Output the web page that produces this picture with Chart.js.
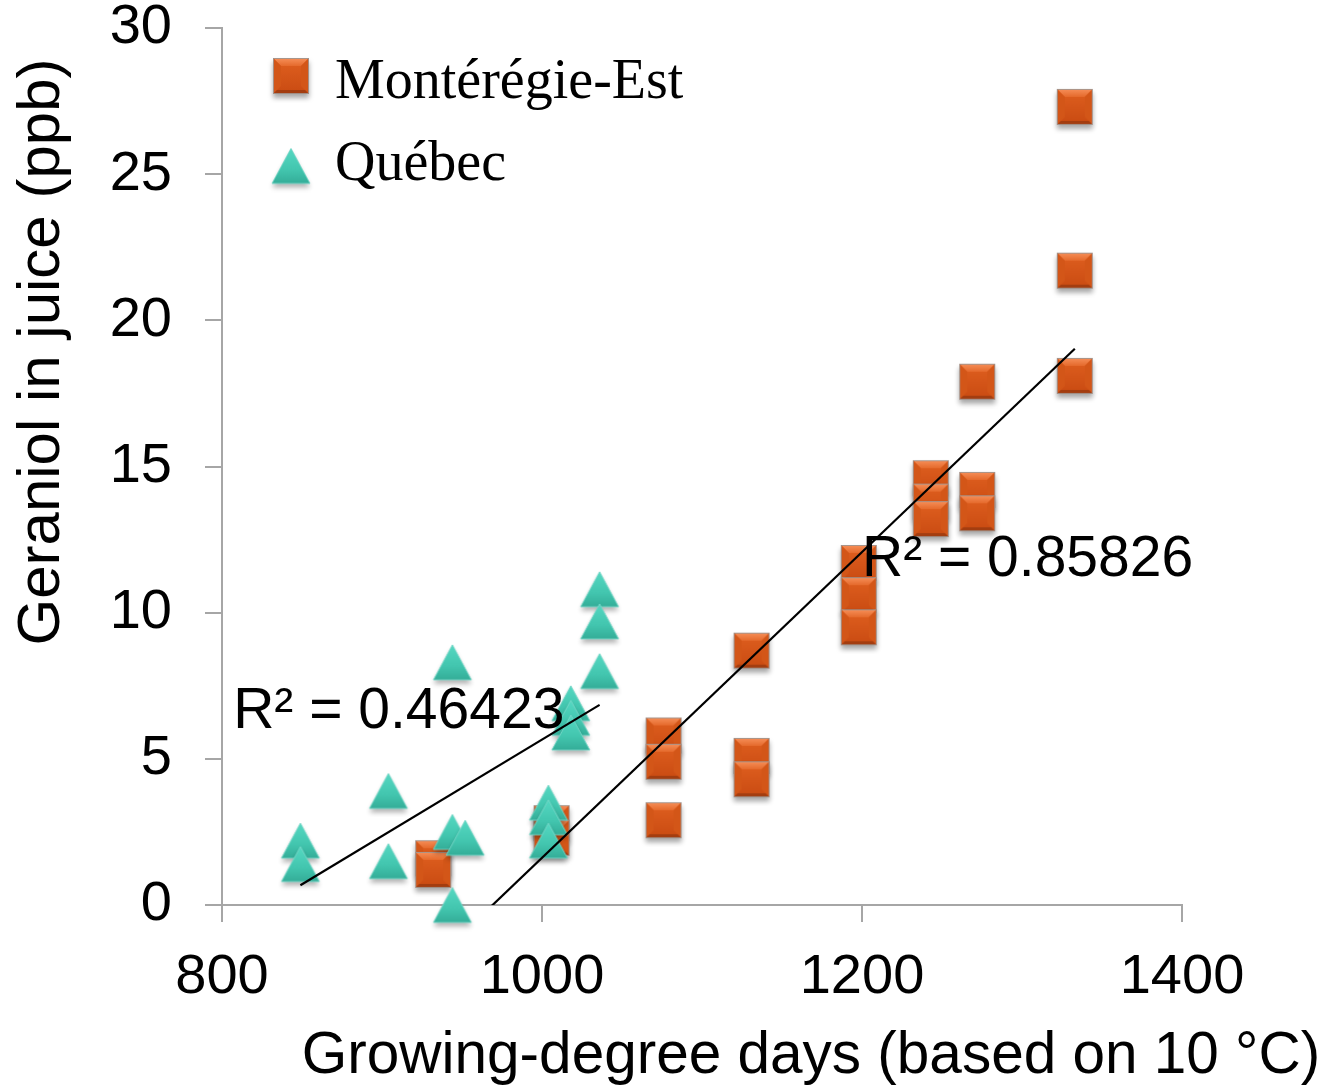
<!DOCTYPE html>
<html>
<head>
<meta charset="utf-8">
<script src="https://cdn.jsdelivr.net/npm/chart.js@4"></script>
<style>
  html, body { margin: 0; padding: 0; background: #fff; }
  #wrap { width: 1329px; height: 1088px; }
</style>
</head>
<body>
<div id="wrap"><canvas id="gdd-chart" width="1329" height="1088"></canvas></div>
<script>
// Geraniol vs growing-degree days, two regions
const seriesNames = ["Montérégie-Est", "Québec"];

const monteregieGdd = [932, 932, 1006, 1006, 1076, 1076, 1076, 1131, 1131, 1131, 1198, 1198, 1198, 1243, 1243, 1243, 1272, 1272, 1272, 1333, 1333, 1333];
const monteregieGeraniol = [1.6, 1.2, 2.8, 2.3, 5.8, 4.9, 2.9, 8.7, 5.1, 4.3, 11.7, 10.6, 9.5, 14.6, 13.8, 13.2, 17.9, 14.2, 13.4, 27.3, 21.7, 18.1];

const quebecGdd = [849, 849, 904, 904, 944, 944, 944, 952, 1004, 1004, 1004, 1018, 1018, 1018, 1036, 1036, 1036];
const quebecGeraniol = [2.2, 1.4, 3.9, 1.5, 8.3, 2.5, 0, 2.3, 3.5, 3.0, 2.2, 6.9, 6.4, 5.9, 10.8, 9.7, 8.0];

const xTicks = [800, 1000, 1200, 1400];
const yTicks = [0, 5, 10, 15, 20, 25, 30];

const r2Labels = ["R² = 0.46423", "R² = 0.85826"];
// left/middle anchor of each R² label, in data units
const r2Anchors = [[807, 6.6], [1200, 11.8]];

const xTitle = "Growing-degree days (based on 10 °C)";
const yTitle = "Geraniol in juice (ppb)";

const SANS = '"Liberation Sans", Arial, sans-serif';
const SERIF = '"Liberation Serif", "Times New Roman", serif';

// least-squares line across the x range of a series
function trendPoints(xs, ys) {
  const n = xs.length;
  const mx = xs.reduce((a, b) => a + b, 0) / n;
  const my = ys.reduce((a, b) => a + b, 0) / n;
  let sxy = 0, sxx = 0;
  for (let i = 0; i < n; i++) {
    sxy += (xs[i] - mx) * (ys[i] - my);
    sxx += (xs[i] - mx) ** 2;
  }
  const slope = sxy / sxx;
  const icpt = my - slope * mx;
  const lo = Math.min(...xs), hi = Math.max(...xs);
  return [{ x: lo, y: icpt + slope * lo }, { x: hi, y: icpt + slope * hi }];
}

const toPoints = (xs, ys) => xs.map((x, i) => ({ x, y: ys[i] }));

// bevelled orange square marker
function makeSquareMarker() {
  const s = 36, pad = 9;
  const c = document.createElement("canvas");
  c.width = c.height = s + pad * 2;
  const g = c.getContext("2d");
  const x0 = pad, y0 = pad, b = 8;

  g.save();
  g.shadowColor = "rgba(0,0,0,0.35)";
  g.shadowBlur = 5;
  g.shadowOffsetY = 4;
  g.fillStyle = "#c54a16";
  g.fillRect(x0, y0, s, s);
  g.restore();

  const face = g.createLinearGradient(0, y0, 0, y0 + s);
  face.addColorStop(0, "#e06020");
  face.addColorStop(1, "#c94b12");
  g.fillStyle = face;
  g.fillRect(x0, y0, s, s);

  // top bevel
  const top = g.createLinearGradient(0, y0, 0, y0 + b);
  top.addColorStop(0, "#f7905a");
  top.addColorStop(1, "#e56a2c");
  g.fillStyle = top;
  g.beginPath();
  g.moveTo(x0, y0); g.lineTo(x0 + s, y0);
  g.lineTo(x0 + s - b, y0 + b); g.lineTo(x0 + b, y0 + b);
  g.closePath(); g.fill();

  // side bevels
  g.fillStyle = "#d35618";
  g.beginPath();
  g.moveTo(x0, y0); g.lineTo(x0 + b, y0 + b);
  g.lineTo(x0 + b, y0 + s - b); g.lineTo(x0, y0 + s);
  g.closePath(); g.fill();
  g.beginPath();
  g.moveTo(x0 + s, y0); g.lineTo(x0 + s - b, y0 + b);
  g.lineTo(x0 + s - b, y0 + s - b); g.lineTo(x0 + s, y0 + s);
  g.closePath(); g.fill();

  // bottom bevel
  g.fillStyle = "#a33d10";
  g.beginPath();
  g.moveTo(x0, y0 + s); g.lineTo(x0 + s, y0 + s);
  g.lineTo(x0 + s - 4, y0 + s - 4); g.lineTo(x0 + 4, y0 + s - 4);
  g.closePath(); g.fill();

  g.strokeStyle = "rgba(160,150,145,0.9)";
  g.lineWidth = 1;
  g.strokeRect(x0 + 0.5, y0 + 0.5, s - 1, s - 1);
  return c;
}

// teal triangle marker
function makeTriangleMarker() {
  const w = 38, h = 35, pad = 9;
  const c = document.createElement("canvas");
  c.width = w + pad * 2;
  c.height = h + pad * 2;
  const g = c.getContext("2d");
  const cx = c.width / 2, top = pad, bot = pad + h;

  const path = () => {
    g.beginPath();
    g.moveTo(cx, top);
    g.lineTo(cx + w / 2, bot);
    g.lineTo(cx - w / 2, bot);
    g.closePath();
  };

  g.save();
  g.shadowColor = "rgba(0,0,0,0.3)";
  g.shadowBlur = 5;
  g.shadowOffsetY = 4;
  g.fillStyle = "#3cbfa8";
  path(); g.fill();
  g.restore();

  const fill = g.createLinearGradient(0, top, 0, bot);
  fill.addColorStop(0, "#55d8c2");
  fill.addColorStop(0.6, "#43c6af");
  fill.addColorStop(1, "#34ad98");
  g.fillStyle = fill;
  path(); g.fill();
  g.strokeStyle = "rgba(120,215,200,0.9)";
  g.lineWidth = 1;
  path(); g.stroke();
  return c;
}

const squareMarker = makeSquareMarker();
const triangleMarker = makeTriangleMarker();

// legend, R² labels and axis titles
const chartText = {
  id: "chartText",
  afterDraw(chart) {
    const { ctx, scales } = chart;
    ctx.save();
    ctx.fillStyle = "#000";

    ctx.drawImage(squareMarker, 291 - squareMarker.width / 2, 76 - squareMarker.height / 2);
    ctx.drawImage(triangleMarker, 291 - triangleMarker.width / 2, 166 - triangleMarker.height / 2);
    ctx.font = `56px ${SERIF}`;
    ctx.textAlign = "left";
    ctx.textBaseline = "alphabetic";
    ctx.fillText(seriesNames[0], 335, 98);
    ctx.fillText(seriesNames[1], 335, 180);

    ctx.font = `57px ${SANS}`;
    ctx.textBaseline = "middle";
    r2Labels.forEach((t, i) => {
      const [ax, ay] = r2Anchors[i];
      ctx.fillText(t, scales.x.getPixelForValue(ax), scales.y.getPixelForValue(ay));
    });

    ctx.textAlign = "center";
    ctx.font = `58.5px ${SANS}`;
    ctx.fillText(xTitle, 811, 1057);

    ctx.font = `60px ${SANS}`;
    ctx.translate(42, 352);
    ctx.rotate(-Math.PI / 2);
    ctx.fillText(yTitle, 0, 0);
    ctx.restore();
  },
};

const axisColor = "#a6a6a6";
const plainTick = (v) => String(v);

new Chart(document.getElementById("gdd-chart"), {
  type: "scatter",
  data: {
    datasets: [
      {
        label: "Québec trend",
        type: "line",
        data: trendPoints(quebecGdd, quebecGeraniol),
        borderColor: "#000",
        borderWidth: 2.2,
        pointRadius: 0,
        fill: false,
        order: 0,
      },
      {
        label: "Montérégie-Est trend",
        type: "line",
        data: trendPoints(monteregieGdd, monteregieGeraniol),
        borderColor: "#000",
        borderWidth: 2.2,
        pointRadius: 0,
        fill: false,
        order: 0,
      },
      {
        label: seriesNames[1],
        data: toPoints(quebecGdd, quebecGeraniol),
        pointStyle: triangleMarker,
        pointRadius: 19,
        clip: false,
        order: 1,
      },
      {
        label: seriesNames[0],
        data: toPoints(monteregieGdd, monteregieGeraniol),
        pointStyle: squareMarker,
        pointRadius: 18,
        clip: false,
        order: 2,
      },
    ],
  },
  options: {
    responsive: false,
    animation: false,
    devicePixelRatio: 1,
    layout: { padding: { top: 28, right: 147, left: 0, bottom: 0 } },
    plugins: {
      legend: { display: false },
      tooltip: { enabled: false },
    },
    scales: {
      x: {
        type: "linear",
        min: xTicks[0],
        max: xTicks[xTicks.length - 1],
        afterBuildTicks: (scale) => { scale.ticks = xTicks.map((v) => ({ value: v })); },
        afterFit: (scale) => {
          scale.height = 183;
          scale.paddingLeft = 0;
          scale.paddingRight = 0;
        },
        border: { color: axisColor, width: 2 },
        grid: { drawOnChartArea: false, drawTicks: true, tickLength: 17, color: axisColor, lineWidth: 2 },
        ticks: { color: "#000", padding: 28, callback: plainTick, font: { family: SANS, size: 56, lineHeight: 1 } },
      },
      y: {
        type: "linear",
        min: yTicks[0],
        max: yTicks[yTicks.length - 1],
        afterBuildTicks: (scale) => { scale.ticks = yTicks.map((v) => ({ value: v })); },
        afterFit: (scale) => {
          scale.width = 222;
          scale.paddingTop = 0;
          scale.paddingBottom = 0;
        },
        border: { color: axisColor, width: 2 },
        grid: { drawOnChartArea: false, drawTicks: true, tickLength: 17, color: axisColor, lineWidth: 2 },
        ticks: { color: "#000", padding: 33, callback: plainTick, font: { family: SANS, size: 56, lineHeight: 1 } },
      },
    },
  },
  plugins: [chartText],
});
</script>
</body>
</html>
